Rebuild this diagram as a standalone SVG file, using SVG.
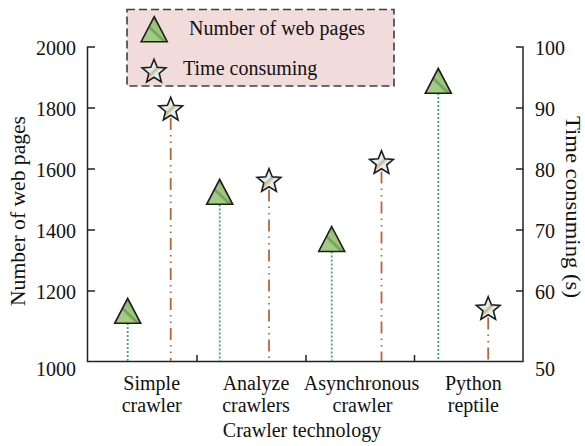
<svg xmlns="http://www.w3.org/2000/svg" width="585" height="446" viewBox="0 0 585 446" font-family="'Liberation Serif', 'Times New Roman', 'DejaVu Serif', serif">
  <style>
    text { font-family: 'Liberation Serif', 'Times New Roman', 'DejaVu Serif', serif; font-size: 20px; fill: #111; }
    .axis { stroke: #222; stroke-width: 1.5; fill: none; }
    .pages-line { stroke: #2fb062; stroke-width: 1.8; stroke-dasharray: 2 2; fill: none; }
    .time-line { stroke: #b5673c; stroke-width: 1.8; stroke-dasharray: 12 5 1.5 5 1.5 5; fill: none; }
    .tri { fill: url(#triFill); stroke: #1c1c1c; stroke-width: 1.6; stroke-linejoin: miter; }
    .star { fill: url(#starFill); stroke: #1c1c1c; stroke-width: 1.6; stroke-linejoin: miter; }
    .mid { text-anchor: middle; }
    .end { text-anchor: end; }
  </style>
  <defs>
    <linearGradient id="triFill" x1="0" y1="1" x2="1" y2="0">
      <stop offset="0" stop-color="#9fcb80"/>
      <stop offset="0.38" stop-color="#a3cd84"/>
      <stop offset="0.45" stop-color="#6f9c54"/>
      <stop offset="0.52" stop-color="#9fc97f"/>
      <stop offset="0.66" stop-color="#8fbd70"/>
      <stop offset="0.72" stop-color="#5f8c46"/>
      <stop offset="0.78" stop-color="#98c479"/>
      <stop offset="1" stop-color="#9fcb80"/>
    </linearGradient>
    <linearGradient id="starFill" x1="0" y1="0" x2="1" y2="1">
      <stop offset="0" stop-color="#dcf0f4"/>
      <stop offset="0.44" stop-color="#dcf0f4"/>
      <stop offset="0.52" stop-color="#d9b07a"/>
      <stop offset="0.6" stop-color="#dcf0f4"/>
      <stop offset="1" stop-color="#dcf0f4"/>
    </linearGradient>
    <path id="triangle" d="M0,-12.5 L13,12.5 L-13,12.5 Z"/>
    <path id="starShape" d="M0,-12.5 L3.23,-4.45 L11.89,-3.86 L5.23,1.7 L7.35,10.11 L0,5.5 L-7.35,10.11 L-5.23,1.7 L-11.89,-3.86 L-3.23,-4.45 Z"/>
  </defs>

  <!-- legend -->
  <g id="legend">
    <rect x="127" y="9.5" width="267" height="76.5" fill="#f2dcdb" stroke="#3f3f3f" stroke-width="1.6" stroke-dasharray="8 4"/>
    <use href="#triangle" class="tri" x="154.2" y="29.2"/>
    <text x="189" y="35">Number of web pages</text>
    <use href="#starShape" class="star" x="154" y="71.8"/>
    <text x="183" y="75">Time consuming</text>
  </g>

  <!-- axes frame, ticks and tick labels -->
  <g id="axes">
    <path class="axis" d="M95,47 H87.5 V361.5 H523 V47 H516"/>
    <path class="axis" d="M87.5,108 H95 M87.5,169 H95 M87.5,230 H95 M87.5,291 H95"/>
    <path class="axis" d="M523,108 H516 M523,169 H516 M523,230 H516 M523,291 H516"/>
    <path class="axis" d="M197,361.5 V355 M306,361.5 V355 M414.5,361.5 V355"/>
    <text class="end" x="76" y="54.5">2000</text>
    <text class="end" x="76" y="115.5">1800</text>
    <text class="end" x="76" y="176.5">1600</text>
    <text class="end" x="76" y="237.5">1400</text>
    <text class="end" x="76" y="298.5">1200</text>
    <text class="end" x="76" y="375.5">1000</text>
    <text x="535" y="54.5">100</text>
    <text x="535" y="115.5">90</text>
    <text x="535" y="176.5">80</text>
    <text x="535" y="237.5">70</text>
    <text x="535" y="298.5">60</text>
    <text x="535" y="375.5">50</text>
    <text class="mid" transform="translate(25,211) rotate(-90)" textLength="190" lengthAdjust="spacingAndGlyphs">Number of web pages</text>
    <text class="mid" transform="translate(566,207) rotate(90)" textLength="182" lengthAdjust="spacingAndGlyphs">Time consuming (s)</text>
  </g>

  <!-- category labels -->
  <g id="categories">
    <text class="mid" x="151.7" y="390">Simple</text>
    <text class="mid" x="151.7" y="412">crawler</text>
    <text class="mid" x="256" y="390">Analyze</text>
    <text class="mid" x="256" y="412">crawlers</text>
    <text class="mid" x="361.5" y="390">Asynchronous</text>
    <text class="mid" x="362.5" y="412">crawler</text>
    <text class="mid" x="473.3" y="390">Python</text>
    <text class="mid" x="473.3" y="412">reptile</text>
    <text class="mid" x="302" y="437">Crawler technology</text>
  </g>

  <!-- drop lines from each marker to the baseline -->
  <g id="connectors">
    <line class="pages-line" x1="127.7" y1="323" x2="127.7" y2="361"/>
    <line class="pages-line" x1="219.7" y1="204.5" x2="219.7" y2="361"/>
    <line class="pages-line" x1="331.7" y1="251.5" x2="331.7" y2="361"/>
    <line class="pages-line" x1="438.3" y1="93" x2="438.3" y2="361"/>
    <line class="time-line" x1="170.7" y1="118" x2="170.7" y2="361"/>
    <line class="time-line" x1="269" y1="189.5" x2="269" y2="361"/>
    <line class="time-line" x1="381.5" y1="171.5" x2="381.5" y2="361"/>
    <line class="time-line" x1="488.2" y1="317.5" x2="488.2" y2="361"/>
  </g>

  <!-- number of web pages markers -->
  <g id="pages-simple"><use href="#triangle" class="tri" x="127.7" y="310.8"/></g>
  <g id="pages-analyze"><use href="#triangle" class="tri" x="219.7" y="191.8"/></g>
  <g id="pages-async"><use href="#triangle" class="tri" x="331.7" y="239"/></g>
  <g id="pages-python"><use href="#triangle" class="tri" x="438.3" y="80.8"/></g>

  <!-- time consuming markers -->
  <g id="time-simple"><use href="#starShape" class="star" x="170.7" y="109.8"/></g>
  <g id="time-analyze"><use href="#starShape" class="star" x="269" y="181.2"/></g>
  <g id="time-async"><use href="#starShape" class="star" x="381.5" y="163.2"/></g>
  <g id="time-python"><use href="#starShape" class="star" x="488.2" y="309.2"/></g>
</svg>
